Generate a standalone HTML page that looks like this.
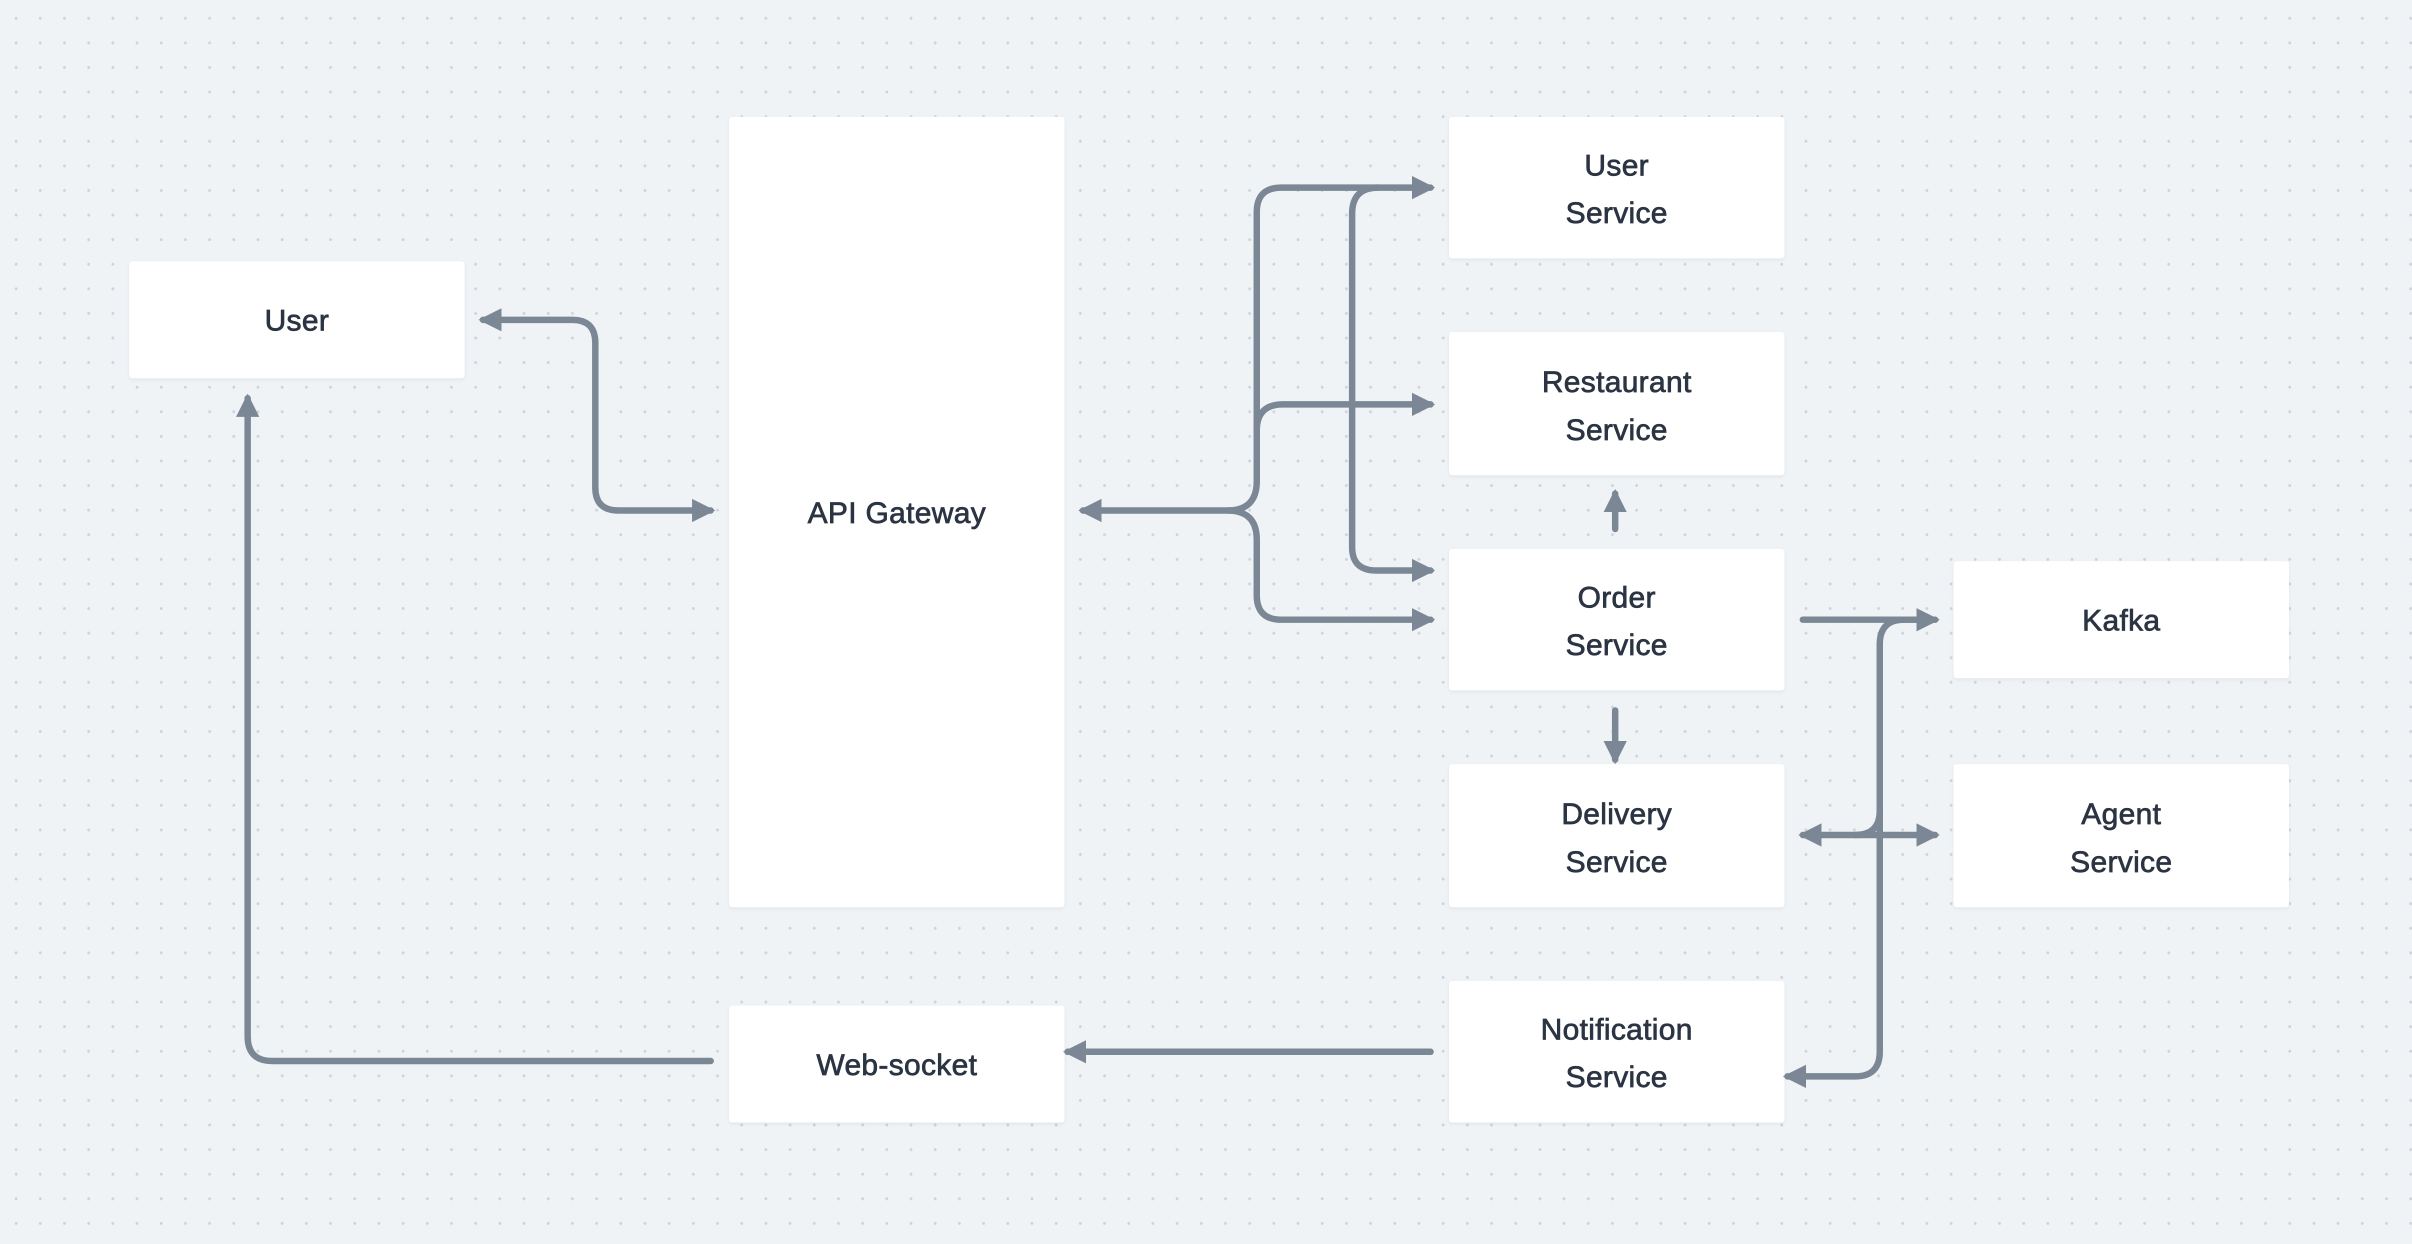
<!DOCTYPE html>
<html><head><meta charset="utf-8"><style>
html,body{margin:0;padding:0}
body{width:2412px;height:1244px;overflow:hidden;background-color:#eff3f6;
background-image:radial-gradient(circle,#cdd3dc 1.3px,transparent 1.6px);background-size:24.2px 24.6px;background-position:4px 6px}
svg{position:absolute;left:0;top:0}
text{font-family:"Liberation Sans",sans-serif;font-size:19.5px;fill:#2b3442;stroke:#2b3442;stroke-width:0.45;text-anchor:middle;letter-spacing:0.2px}
</style></head><body>
<svg width="2412" height="1244" viewBox="0 0 1568 809" preserveAspectRatio="none">
<defs>
<marker id="a" viewBox="0 0 10 10" refX="8" refY="5" markerWidth="3.6" markerHeight="4" orient="auto-start-reverse" markerUnits="strokeWidth"><path d="M0,0 L10,5 L0,10 Z" fill="#7b8794"/></marker>
<filter id="s" x="-10%" y="-10%" width="120%" height="130%"><feDropShadow dx="0" dy="1" stdDeviation="1.2" flood-color="#000" flood-opacity="0.06"/></filter>
</defs>
<g fill="#fff" filter="url(#s)">
<rect x="84" y="170" width="218" height="76" rx="2"/>
<rect x="474" y="76" width="218" height="514" rx="2"/>
<rect x="474" y="654" width="218" height="76" rx="2"/>
<rect x="942" y="76" width="218" height="92" rx="2"/>
<rect x="942" y="216" width="218" height="93" rx="2"/>
<rect x="942" y="357" width="218" height="92" rx="2"/>
<rect x="942" y="497" width="218" height="93" rx="2"/>
<rect x="942" y="638" width="218" height="92" rx="2"/>
<rect x="1270" y="365" width="218" height="76" rx="2"/>
<rect x="1270" y="497" width="218" height="93" rx="2"/>
</g>
<g fill="none" stroke="#7b8794" stroke-width="4.2" stroke-linecap="round" stroke-linejoin="round">
<path d="M314,208 H372 Q387,208 387,223 V317 Q387,332 402,332 H462" marker-start="url(#a)" marker-end="url(#a)"/>
<path d="M704,332 H798 Q817,332 817,313 V138 Q817,122 833,122 H930" marker-start="url(#a)" marker-end="url(#a)"/>
<path d="M817,280 Q817,263 834,263 H930" marker-end="url(#a)"/>
<path d="M798,332 Q817,332 817,351 V387 Q817,403 833,403 H930" marker-end="url(#a)"/>
<path d="M896,122 Q879,122 879,139 V356 Q879,371 895,371 H930" marker-end="url(#a)"/>
<path d="M1050,344 V321" marker-end="url(#a)"/>
<path d="M1050,462 V494" marker-end="url(#a)"/>
<path d="M1172,403 H1258" marker-end="url(#a)"/>
<path d="M1250,403 H1238 Q1222,403 1222,419 V684 Q1222,700 1206,700 H1162" marker-end="url(#a)"/>
<path d="M1172,543 H1258" marker-start="url(#a)" marker-end="url(#a)"/>
<path d="M1222,527 Q1222,543 1206,543"/>
<path d="M930,684 H694" marker-end="url(#a)"/>
<path d="M462,690 H177 Q161,690 161,674 V259" marker-end="url(#a)"/>
</g>
<text x="193" y="215">User</text>
<text x="583" y="340">API Gateway</text>
<text x="583" y="699">Web-socket</text>
<text x="1051" y="114">User</text><text x="1051" y="145">Service</text>
<text x="1051" y="255">Restaurant</text><text x="1051" y="286">Service</text>
<text x="1051" y="395">Order</text><text x="1051" y="426">Service</text>
<text x="1051" y="536">Delivery</text><text x="1051" y="567">Service</text>
<text x="1051" y="676">Notification</text><text x="1051" y="707">Service</text>
<text x="1379" y="410">Kafka</text>
<text x="1379" y="536">Agent</text><text x="1379" y="567">Service</text>
</svg>
</body></html>
